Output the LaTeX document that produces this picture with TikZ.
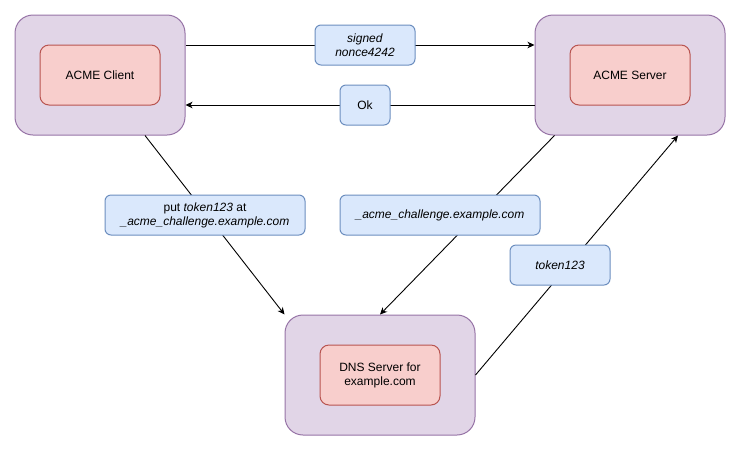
\documentclass[tikz,border=0pt]{standalone}
\usepackage{fontspec}
\setmainfont{Liberation Sans}
\usetikzlibrary{arrows.meta,calc}
\definecolor{outerfill}{HTML}{E1D5E7}
\definecolor{outerline}{HTML}{9673A6}
\definecolor{innerfill}{HTML}{F8CECC}
\definecolor{innerline}{HTML}{B85450}
\definecolor{labfill}{HTML}{DAE8FC}
\definecolor{labline}{HTML}{6C8EBF}
\tikzset{
  outerbox/.style={draw=outerline, fill=outerfill, line width=1pt, rounded corners=18pt, minimum height=120pt, inner sep=0pt},
  innerbox/.style={draw=innerline, fill=innerfill, line width=1pt, rounded corners=9pt, minimum width=120pt, minimum height=60pt, inner sep=0pt, align=center, font=\fontsize{12}{14}\selectfont},
  labbox/.style={draw=labline, fill=labfill, line width=1pt, rounded corners=6pt, minimum height=40pt, inner sep=0pt, align=center, font=\fontsize{12}{14}\selectfont},
  conn/.style={line width=0.9pt, -{Stealth[length=7pt,width=6.5pt,inset=2pt]}},
}
\begin{document}
\begin{tikzpicture}[x=1pt,y=-1pt]
\useasboundingbox (0,0) rectangle (741,451);
% outer boxes
\node[outerbox, minimum width=170pt] (client) at (100,75) {};
\node[outerbox, minimum width=190pt] (server) at (630,75) {};
\node[outerbox, minimum width=190pt] (dns) at (380,375) {};
% inner boxes
\node[innerbox] (clientin) at (100,75) {ACME Client};
\node[innerbox] (serverin) at (630,75) {ACME Server};
\node[innerbox] (dnsin) at (380,375) {DNS Server for\\example.com};
% connectors
\draw[conn] ($(client.east)+(0,-30)$) coordinate (c1) -- ($(server.west)+(0,-30)$) coordinate (s1);
\draw[conn] ($(server.west)+(0,30)$) coordinate (s2) -- ($(client.east)+(0,30)$) coordinate (c2);
\draw[conn] ($(client.south)+(45,0)$) coordinate (c3) -- (dns.north west);
\draw[conn] ($(server.south west)+(20,0)$) coordinate (s3) -- (dns.north);
\draw[conn] (dns.east) -- ($(server.south)+(48,0)$) coordinate (s4);
% labels
\node[labbox, minimum width=100pt] (lnonce) at (365,45) {\textit{signed}\\\textit{nonce4242}};
\node[labbox, minimum width=50pt] (lok) at (365,105) {Ok};
\node[labbox, minimum width=200pt] (lput) at (205,215) {put \textit{token123} at\\\textit{\_acme\_challenge.example.com}};
\node[labbox, minimum width=200pt] (lacme) at (440,215) {\textit{\_acme\_challenge.example.com}};
\node[labbox, minimum width=100pt] (ltoken) at (560,265) {\textit{token123}};
\end{tikzpicture}
\end{document}
